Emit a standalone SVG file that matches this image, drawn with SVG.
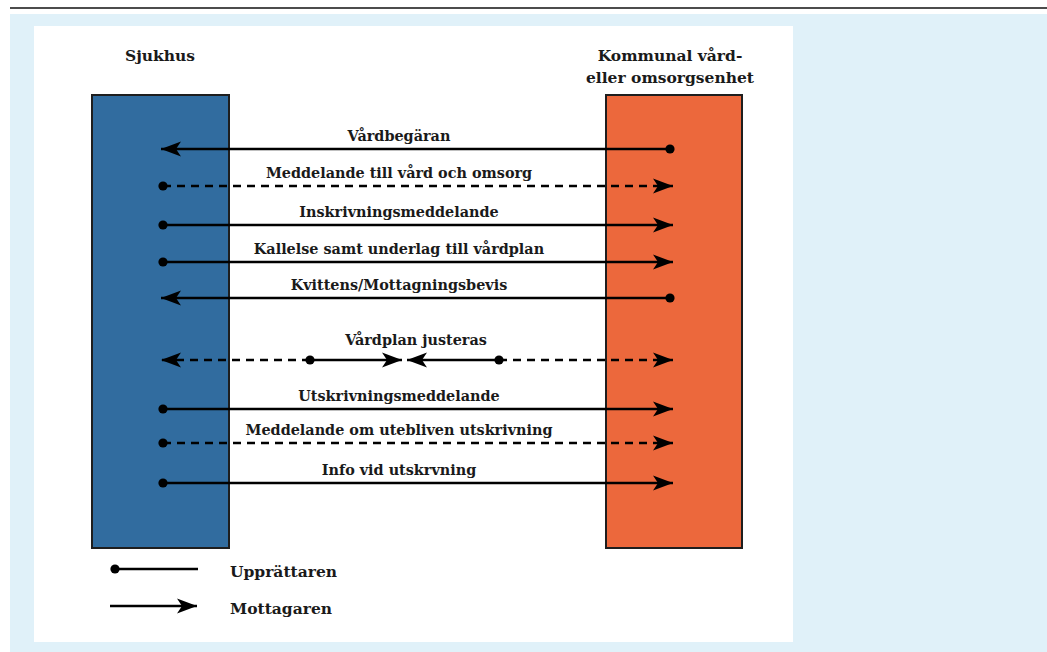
<svg xmlns="http://www.w3.org/2000/svg" width="1047" height="652" viewBox="0 0 1047 652">
  <style>
    .lbl { font-family: "DejaVu Serif", "Liberation Serif", serif; font-weight: bold; font-size: 14.4px; fill: #1a1a1a; text-anchor: middle; }
    .hdr { font-family: "DejaVu Serif", "Liberation Serif", serif; font-weight: bold; font-size: 15.5px; fill: #1a1a1a; text-anchor: middle; }
    .leg { font-family: "DejaVu Serif", "Liberation Serif", serif; font-weight: bold; font-size: 15.5px; fill: #1a1a1a; }
    .ln { stroke: #000; stroke-width: 2.5; fill: none; }
    .dash { stroke-dasharray: 8 6; }
    .a { marker-end: url(#arr); }
    .d { marker-start: url(#dot); }
  </style>
  <defs>
    <marker id="arr" markerUnits="userSpaceOnUse" viewBox="-20 -8 21 16" refX="0" refY="0" markerWidth="21" markerHeight="16" orient="auto" overflow="visible">
      <path d="M0,0 L-20,-7.5 L-15,0 L-20,7.5 Z" fill="#000" stroke="none"/>
    </marker>
    <marker id="dot" markerUnits="userSpaceOnUse" viewBox="-5 -5 10 10" refX="0" refY="0" markerWidth="10" markerHeight="10" orient="auto" overflow="visible">
      <circle cx="0" cy="0" r="4.6" fill="#000"/>
    </marker>
  </defs>

  <line x1="10" y1="8" x2="1047" y2="8" stroke="#111" stroke-width="1.5"/>
  <rect x="10" y="14" width="1037" height="638" fill="#e0f1f9"/>
  <rect x="34" y="26" width="759" height="616" fill="#ffffff"/>

  <g id="sjukhus">
    <rect x="92" y="95" width="137" height="453" fill="#316c9f" stroke="#1e1e1e" stroke-width="2"/>
    <text class="hdr" x="160" y="61">Sjukhus</text>
  </g>
  <g id="kommun">
    <rect x="606" y="95" width="136" height="453" fill="#ec683c" stroke="#1e1e1e" stroke-width="2"/>
    <text class="hdr" x="670" y="61">Kommunal vård-</text>
    <text class="hdr" x="670" y="83">eller omsorgsenhet</text>
  </g>

  <g id="connectors">
    <line class="ln d a" x1="670" y1="149" x2="161" y2="149"/>
    <text class="lbl" x="399" y="141">Vårdbegäran</text>

    <line class="ln dash d a" x1="163" y1="186" x2="673" y2="186"/>
    <text class="lbl" x="399" y="178">Meddelande till vård och omsorg</text>

    <line class="ln d a" x1="163" y1="225" x2="673" y2="225"/>
    <text class="lbl" x="399" y="217">Inskrivningsmeddelande</text>

    <line class="ln d a" x1="163" y1="262" x2="673" y2="262"/>
    <text class="lbl" x="399" y="254">Kallelse samt underlag till vårdplan</text>

    <line class="ln d a" x1="670" y1="298" x2="161" y2="298"/>
    <text class="lbl" x="399" y="290">Kvittens/Mottagningsbevis</text>

    <line class="ln dash a" x1="310" y1="360" x2="161" y2="360"/>
    <line class="ln d a" x1="310" y1="360" x2="402" y2="360"/>
    <line class="ln d a" x1="499" y1="360" x2="407" y2="360"/>
    <line class="ln dash a" x1="499" y1="360" x2="673" y2="360"/>
    <text class="lbl" x="416" y="345">Vårdplan justeras</text>

    <line class="ln d a" x1="163" y1="409" x2="673" y2="409"/>
    <text class="lbl" x="399" y="401">Utskrivningsmeddelande</text>

    <line class="ln dash d a" x1="163" y1="443" x2="673" y2="443"/>
    <text class="lbl" x="399" y="435">Meddelande om utebliven utskrivning</text>

    <line class="ln d a" x1="163" y1="483" x2="673" y2="483"/>
    <text class="lbl" x="399" y="475">Info vid utskrvning</text>
  </g>

  <g id="legend">
    <line class="ln d" x1="115" y1="569" x2="198" y2="569"/>
    <text class="leg" x="230" y="577">Upprättaren</text>
    <line class="ln a" x1="110" y1="606" x2="197" y2="606"/>
    <text class="leg" x="230" y="614">Mottagaren</text>
  </g>
</svg>
